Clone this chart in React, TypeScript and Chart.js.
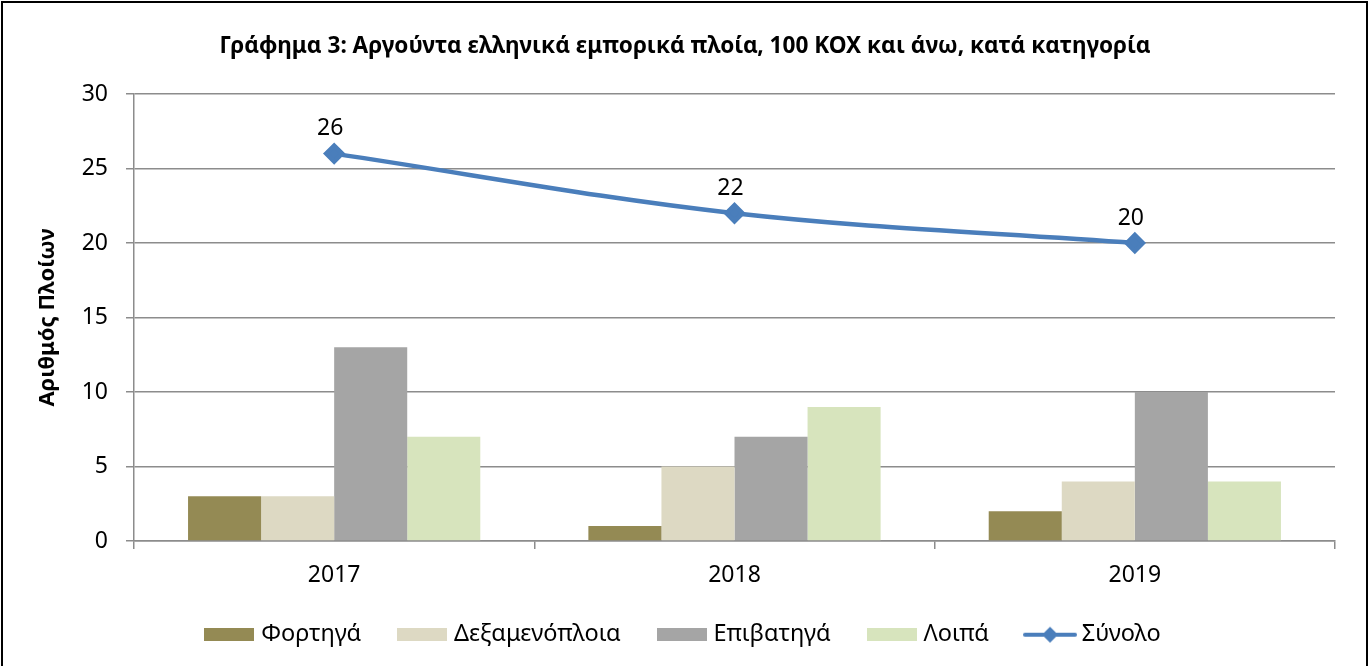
import React, { useEffect, useRef } from "react";
import { Chart, registerables } from "chart.js";

Chart.register(...registerables);

const categories = ["2017", "2018", "2019"];
const cargo = [3, 1, 2];
const tankers = [3, 5, 4];
const passenger = [13, 7, 10];
const others = [7, 9, 4];
const total = [26, 22, 20];
const seriesNames = ["Φορτηγά", "Δεξαμενόπλοια", "Επιβατηγά", "Λοιπά", "Σύνολο"];
const barColors = ["#948A54", "#DDD9C3", "#A5A5A5", "#D7E4BD"];
const lineColor = "#4A7EBB";
const titleText = "Γράφημα 3: Αργούντα ελληνικά εμπορικά πλοία, 100 ΚΟΧ και άνω, κατά κατηγορία";
const yTitle = "Αριθμός Πλοίων";

const FONT = "'Noto Sans', 'Open Sans', sans-serif";
const GRID = "#8C8C8C";

function boxImage(color: string) {
  const c = document.createElement("canvas");
  c.width = 50;
  c.height = 13;
  const ctx = c.getContext("2d")!;
  ctx.fillStyle = color;
  ctx.fillRect(0, 0, 50, 13);
  return c;
}

function lineImage() {
  const c = document.createElement("canvas");
  c.width = 54;
  c.height = 20;
  const ctx = c.getContext("2d")!;
  ctx.strokeStyle = lineColor;
  ctx.lineWidth = 4;
  ctx.lineCap = "round";
  ctx.beginPath();
  ctx.moveTo(2, 10);
  ctx.lineTo(52, 10);
  ctx.stroke();
  ctx.fillStyle = lineColor;
  ctx.beginPath();
  ctx.moveTo(27, 2);
  ctx.lineTo(35, 10);
  ctx.lineTo(27, 18);
  ctx.lineTo(19, 10);
  ctx.closePath();
  ctx.fill();
  return c;
}

const framePlugin = {
  id: "frame",
  beforeDraw(chart: any) {
    const ctx = chart.ctx;
    ctx.save();
    ctx.fillStyle = "#FFFFFF";
    ctx.fillRect(0, 0, chart.width, chart.height);
    ctx.strokeStyle = "#000000";
    ctx.lineWidth = 2;
    ctx.strokeRect(2, 2, chart.width - 5, chart.height + 20);
    ctx.restore();
  },
};

const labelPlugin = {
  id: "pointLabels",
  afterDatasetsDraw(chart: any) {
    const ctx = chart.ctx;
    const idx = chart.data.datasets.findIndex((d: any) => d.type === "line");
    if (idx < 0) return;
    const meta = chart.getDatasetMeta(idx);
    ctx.save();
    ctx.font = `23px ${FONT}`;
    ctx.fillStyle = "#000000";
    ctx.textAlign = "center";
    ctx.textBaseline = "middle";
    meta.data.forEach((pt: any, i: number) => {
      ctx.fillText(String(chart.data.datasets[idx].data[i]), pt.x - 4, pt.y - 25);
    });
    ctx.restore();
  },
};

export default function App() {
  const ref = useRef<HTMLCanvasElement>(null);
  useEffect(() => {
    document.body.style.margin = "0";
    const imgs = [...barColors.map(boxImage), lineImage()];
    const barData = [cargo, tankers, passenger, others];
    const chart = new Chart(ref.current!, {
      type: "bar",
      data: {
        labels: categories,
        datasets: [
          {
            type: "line",
            label: seriesNames[4],
            data: total,
            borderColor: lineColor,
            backgroundColor: lineColor,
            borderWidth: 4.5,
            tension: 0.35,
            pointStyle: "rectRot",
            pointRadius: 8,
            pointBackgroundColor: lineColor,
            pointBorderColor: lineColor,
            order: 0,
          } as any,
          ...barData.map((d, i) => ({
            type: "bar" as const,
            label: seriesNames[i],
            data: d,
            backgroundColor: barColors[i],
            borderWidth: 0,
            categoryPercentage: 0.73,
            barPercentage: 1,
            order: 1,
          })),
        ],
      },
      options: {
        responsive: false,
        animation: false,
        layout: { padding: { left: 35, right: 35, top: 0, bottom: 9.5 } },
        plugins: {
          title: {
            display: true,
            text: titleText,
            font: { family: FONT, size: 22.6, weight: "bold" },
            color: "#000000",
            padding: { top: 33.5, bottom: 33.4 },
          },
          legend: {
            position: "bottom",
            labels: {
              font: { family: FONT, size: 23.5 },
              color: "#000000",
              usePointStyle: true,
              pointStyleWidth: 40,
              padding: 41,
              generateLabels: (ch: any) => {
                const order = [1, 2, 3, 4, 0];
                return order.map((di, k) => ({
                  text: ch.data.datasets[di].label,
                  datasetIndex: di,
                  pointStyle: imgs[k],
                  fillStyle: "transparent",
                  strokeStyle: "transparent",
                  lineWidth: 0,
                  hidden: false,
                })) as any;
              },
            },
          },
          tooltip: { enabled: false },
        },
        scales: {
          x: {
            offset: true,
            grid: {
              display: true,
              offset: true,
              drawOnChartArea: false,
              drawTicks: true,
              tickLength: 8,
              color: GRID,
              lineWidth: 1.5,
            },
            border: { display: true, color: GRID, width: 1.5 },
            ticks: { font: { family: FONT, size: 23 }, color: "#000000", padding: 13 },
            afterFit: (s: any) => {
              s.height = 41;
            },
          },
          y: {
            min: 0,
            max: 30,
            ticks: { stepSize: 5, font: { family: FONT, size: 23 }, color: "#000000", padding: 18 },
            grid: { color: GRID, lineWidth: 1.5, tickLength: 8 },
            border: { display: true, color: GRID, width: 1.5 },
            title: {
              display: true,
              text: yTitle,
              font: { family: FONT, size: 22, weight: "bold" },
              color: "#000000",
              padding: { top: 0, bottom: 0 },
            },
            afterFit: (s: any) => {
              s.width = 99;
            },
          },
        },
      },
      plugins: [framePlugin, labelPlugin],
    });
    return () => chart.destroy();
  }, []);
  return <canvas ref={ref} width={1370} height={666} style={{ display: "block" }} />;
}
